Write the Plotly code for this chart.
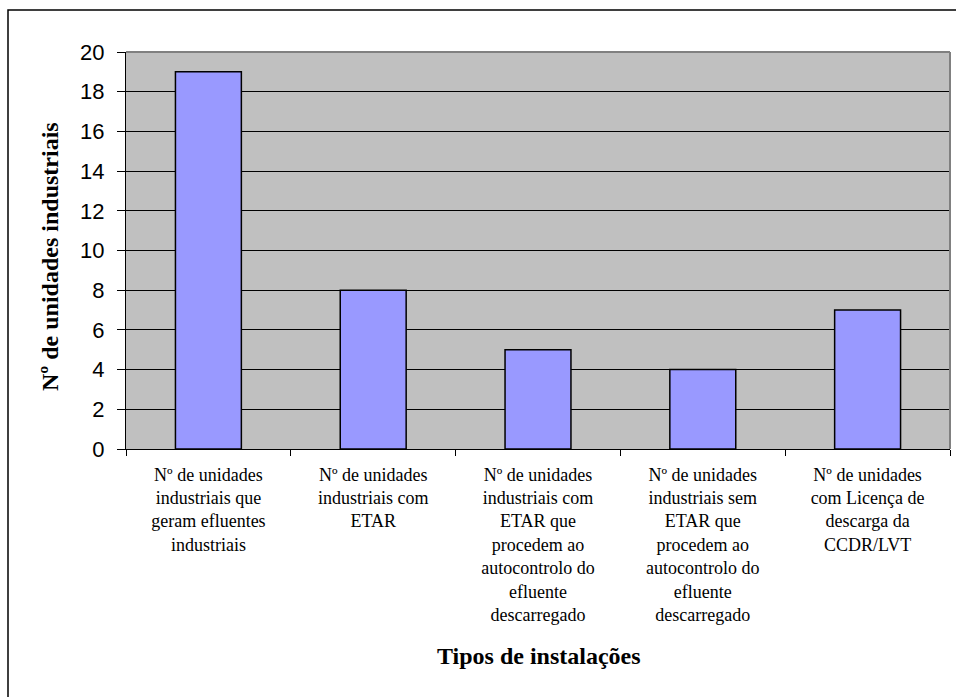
import plotly.graph_objects as go

# Categories (installation types) and counts
categorias = [
    "Nº de unidades<br>industriais que<br>geram efluentes<br>industriais",
    "Nº de unidades<br>industriais com<br>ETAR",
    "Nº de unidades<br>industriais com<br>ETAR que<br>procedem ao<br>autocontrolo do<br>efluente<br>descarregado",
    "Nº de unidades<br>industriais sem<br>ETAR que<br>procedem ao<br>autocontrolo do<br>efluente<br>descarregado",
    "Nº de unidades<br>com Licença de<br>descarga da<br>CCDR/LVT",
]
valores = [19, 8, 5, 4, 7]
y_ticks = list(range(0, 21, 2))

W, H = 956, 697
L, R, T, B = 126, 6, 52, 248
pw, ph = W - L - R, H - T - B


def px(x):
    return (x - L) / pw


def py(y):
    return (H - B - y) / ph


fig = go.Figure(
    go.Bar(
        x=categorias,
        y=valores,
        marker=dict(color="#9999FF", line=dict(color="black", width=1.5)),
        showlegend=False,
    )
)

fig.update_layout(
    width=W,
    height=H,
    margin=dict(l=L, r=R, t=T, b=B),
    paper_bgcolor="white",
    plot_bgcolor="#C0C0C0",
    bargap=0.6,
    xaxis=dict(
        type="category",
        tickson="boundaries",
        ticks="outside",
        ticklen=6,
        tickcolor="black",
        showline=True,
        linecolor="black",
        linewidth=1,
        showgrid=False,
        tickangle=0,
        ticklabelstandoff=9,
        tickfont=dict(family="Liberation Serif", size=18, color="black"),
    ),
    yaxis=dict(
        range=[0, 20],
        tickvals=y_ticks,
        ticks="outside",
        ticklen=8,
        tickcolor="black",
        showline=True,
        linecolor="black",
        linewidth=1,
        showgrid=True,
        gridcolor="black",
        gridwidth=1,
        zeroline=False,
        ticklabelstandoff=8,
        tickfont=dict(family="Liberation Sans", size=22, color="black"),
    ),
    shapes=[
        # plot border (top and right)
        dict(type="line", xref="paper", yref="paper", x0=0, x1=1, y0=1, y1=1,
             line=dict(color="#808080", width=2)),
        dict(type="line", xref="paper", yref="paper", x0=1, x1=1, y0=0, y1=1,
             line=dict(color="#808080", width=2)),
        # outer chart frame
        dict(type="rect", xref="paper", yref="paper",
             x0=px(8), x1=px(970), y0=py(10), y1=py(710),
             line=dict(color="black", width=1.5), fillcolor="rgba(0,0,0,0)",
             layer="above"),
    ],
    annotations=[
        dict(text="<b>Tipos de instalações</b>", xref="paper", yref="paper",
             x=px(539), y=py(656), showarrow=False, xanchor="center",
             yanchor="middle",
             font=dict(family="Liberation Serif", size=24, color="black")),
        dict(text="<b>Nº de unidades industriais</b>", xref="paper", yref="paper",
             x=px(50), y=py(257), showarrow=False, textangle=-90,
             xanchor="center", yanchor="middle",
             font=dict(family="Liberation Serif", size=24, color="black")),
    ],
)

fig.write_html("out.html")
